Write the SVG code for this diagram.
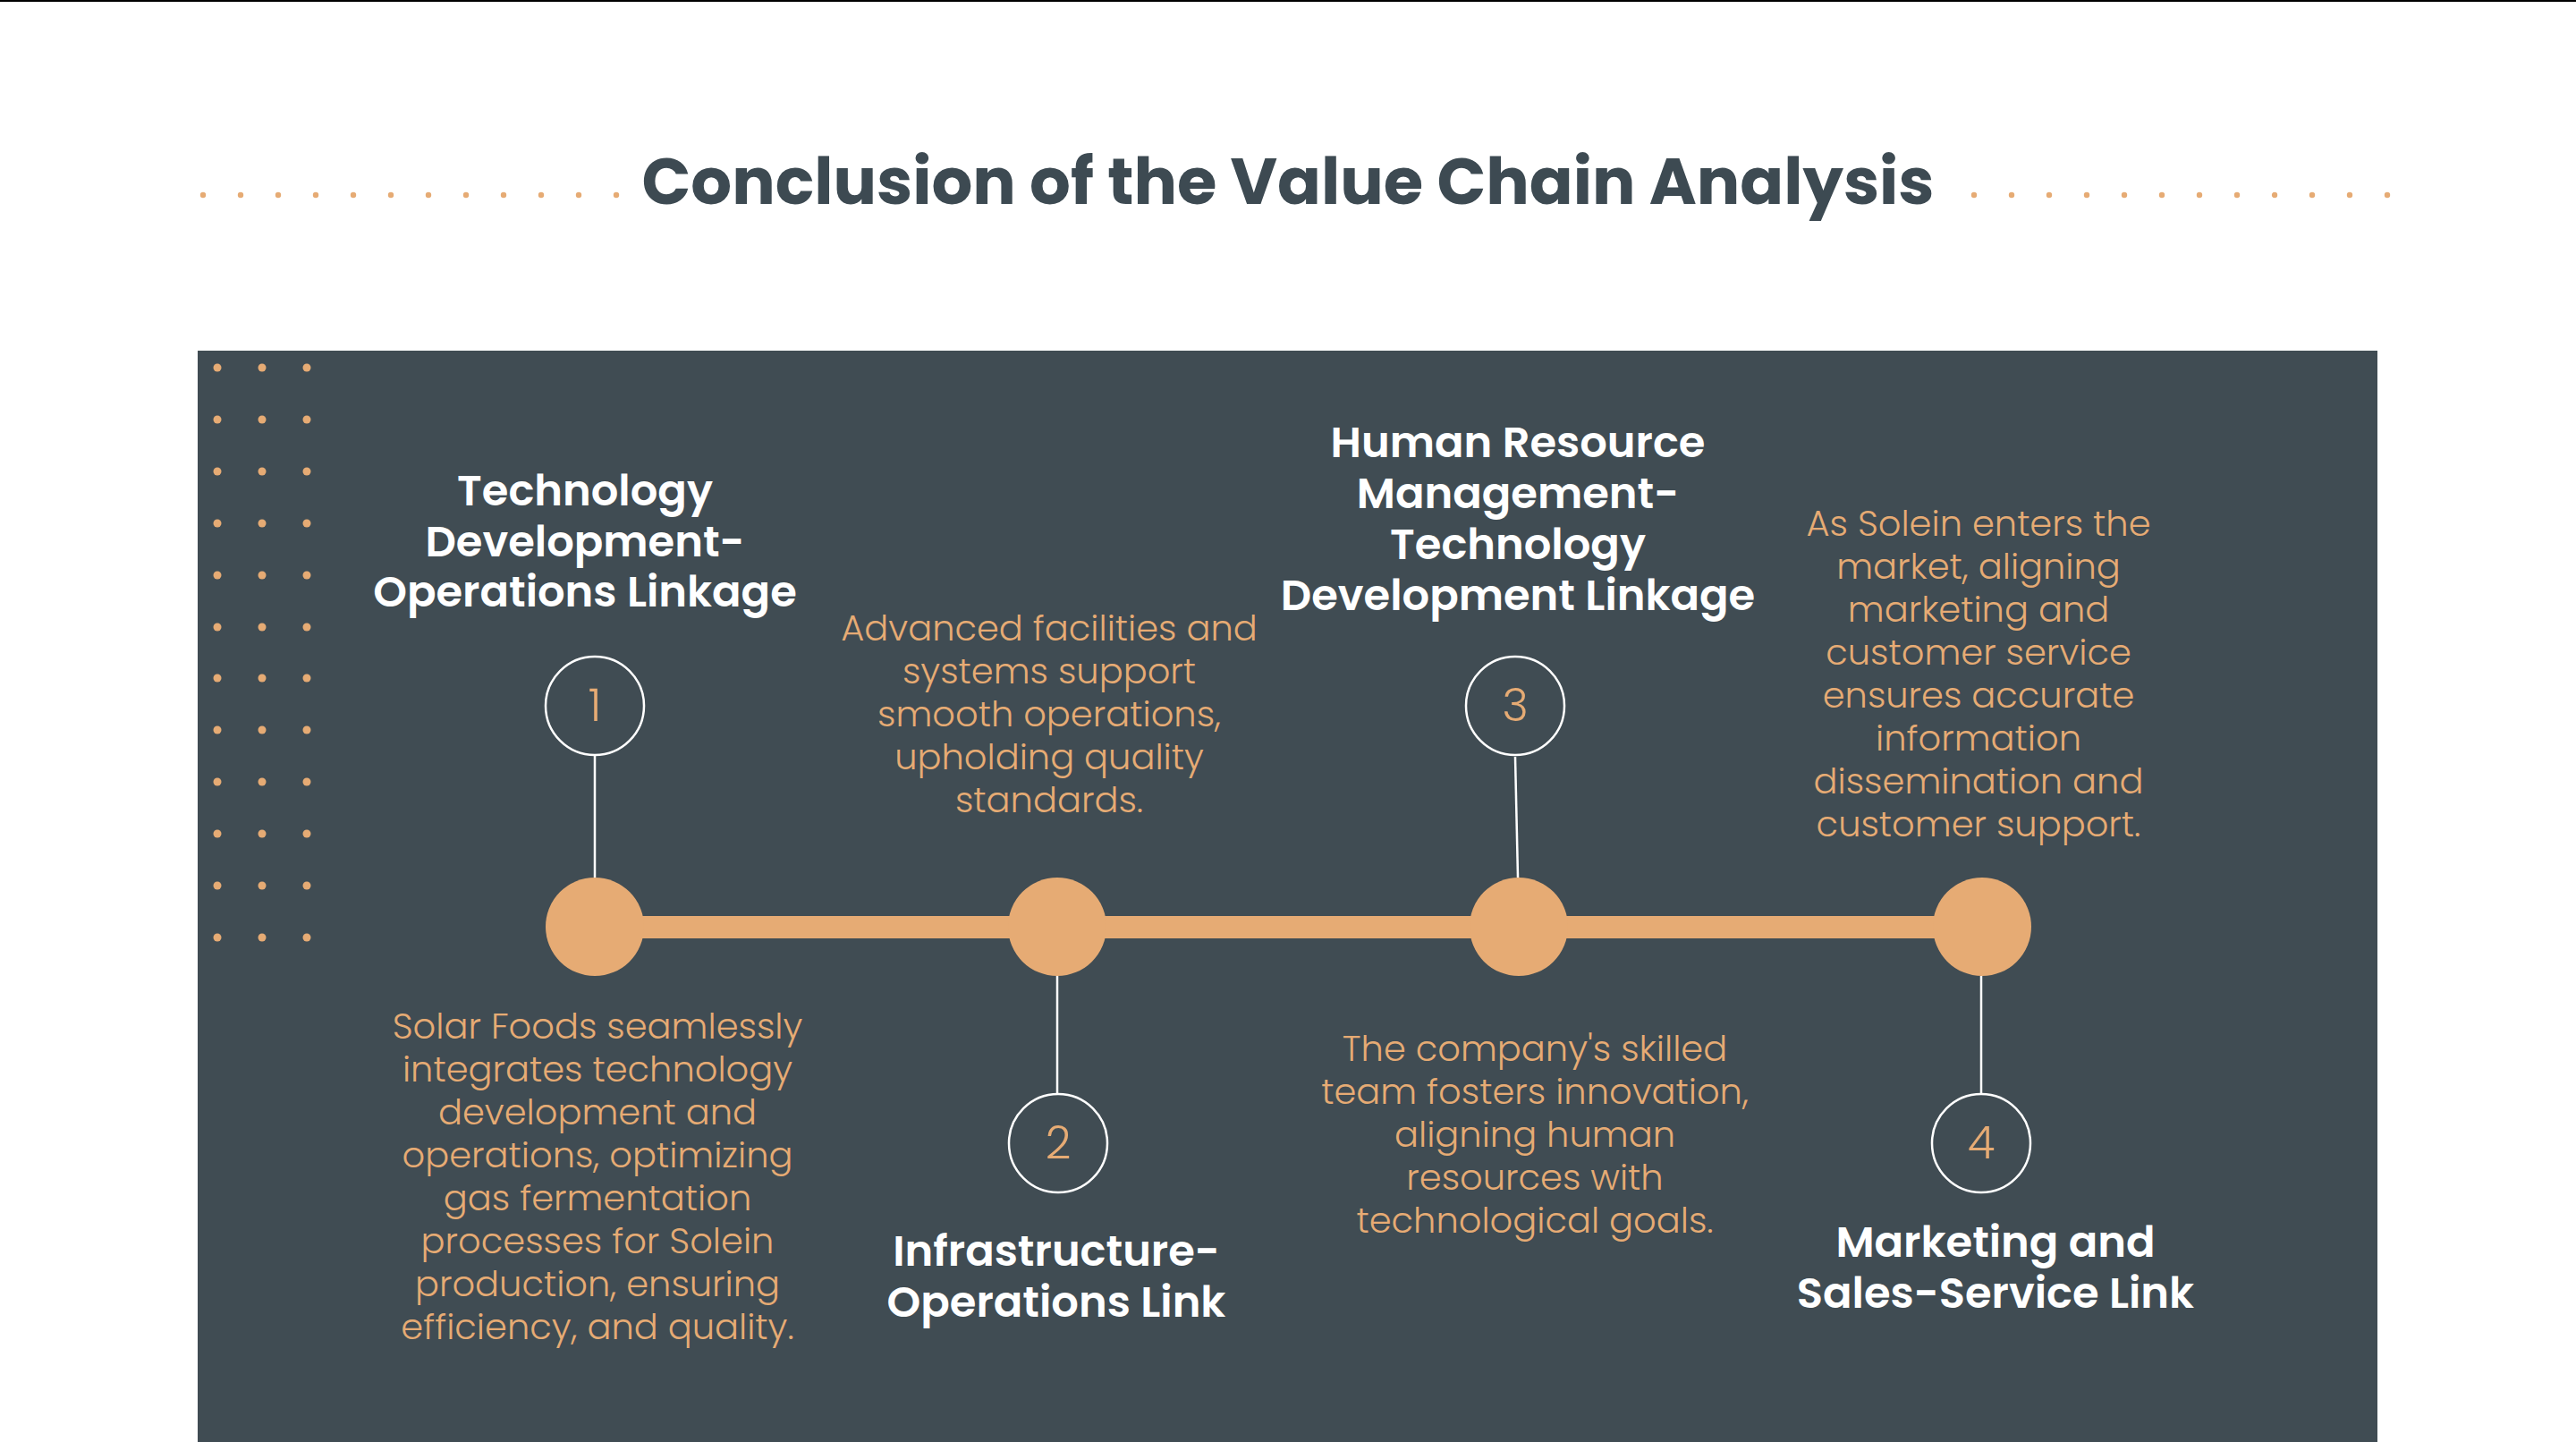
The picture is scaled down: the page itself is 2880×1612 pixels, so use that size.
<svg xmlns="http://www.w3.org/2000/svg" width="2880" height="1612" viewBox="0 0 2880 1612">
<style>
.page{fill:#ffffff}
.panel{fill:#404c53}
.dot{fill:#e6ab74}
.title{font-family:Poppins,Lato,"Open Sans",sans-serif;font-weight:700;font-size:72px;fill:#3d4a52;text-anchor:middle}
.head{font-family:Poppins,Lato,"Open Sans",sans-serif;font-weight:600;font-size:48px;fill:#ffffff;text-anchor:middle}
.body{font-family:Poppins,Lato,"Open Sans",sans-serif;font-weight:300;font-size:40px;fill:#e6ab74;text-anchor:middle}
.num{font-family:Poppins,Lato,"Open Sans",sans-serif;font-weight:300;font-size:50px;fill:#e6ab74;text-anchor:middle}
.ring{fill:none;stroke:#ffffff;stroke-width:2.5}
.hub{fill:#e6ab74}
.bar{fill:#e6ab74}
.stem{stroke:#ffffff;stroke-width:2.5;fill:none}
</style>
<defs>
<circle id="td" r="3.2" class="dot"/>
<circle id="gd" r="4.5" class="dot"/>
</defs>
<rect class="page" x="0" y="0" width="2880" height="1612"/>
<rect x="0" y="0" width="2880" height="2" fill="#000000"/>

<g id="title">
<text class="title" x="1440" y="228">Conclusion of the Value Chain Analysis</text>
<g id="title-dots-left">
<use href="#td" x="227" y="218"/><use href="#td" x="269" y="218"/><use href="#td" x="311" y="218"/><use href="#td" x="353" y="218"/><use href="#td" x="395" y="218"/><use href="#td" x="437" y="218"/><use href="#td" x="479" y="218"/><use href="#td" x="521" y="218"/><use href="#td" x="563" y="218"/><use href="#td" x="605" y="218"/><use href="#td" x="647" y="218"/><use href="#td" x="689" y="218"/>
</g>
<g id="title-dots-right">
<use href="#td" x="2207" y="218"/><use href="#td" x="2249" y="218"/><use href="#td" x="2291" y="218"/><use href="#td" x="2333" y="218"/><use href="#td" x="2375" y="218"/><use href="#td" x="2417" y="218"/><use href="#td" x="2459" y="218"/><use href="#td" x="2501" y="218"/><use href="#td" x="2543" y="218"/><use href="#td" x="2585" y="218"/><use href="#td" x="2627" y="218"/><use href="#td" x="2669" y="218"/>
</g>
</g>

<rect id="panel" class="panel" x="221" y="392" width="2437" height="1220"/>

<g id="grid-dots">
<use href="#gd" x="243" y="411"/><use href="#gd" x="293" y="411"/><use href="#gd" x="343" y="411"/>
<use href="#gd" x="243" y="469"/><use href="#gd" x="293" y="469"/><use href="#gd" x="343" y="469"/>
<use href="#gd" x="243" y="527"/><use href="#gd" x="293" y="527"/><use href="#gd" x="343" y="527"/>
<use href="#gd" x="243" y="585"/><use href="#gd" x="293" y="585"/><use href="#gd" x="343" y="585"/>
<use href="#gd" x="243" y="643"/><use href="#gd" x="293" y="643"/><use href="#gd" x="343" y="643"/>
<use href="#gd" x="243" y="701"/><use href="#gd" x="293" y="701"/><use href="#gd" x="343" y="701"/>
<use href="#gd" x="243" y="758"/><use href="#gd" x="293" y="758"/><use href="#gd" x="343" y="758"/>
<use href="#gd" x="243" y="816"/><use href="#gd" x="293" y="816"/><use href="#gd" x="343" y="816"/>
<use href="#gd" x="243" y="874"/><use href="#gd" x="293" y="874"/><use href="#gd" x="343" y="874"/>
<use href="#gd" x="243" y="932"/><use href="#gd" x="293" y="932"/><use href="#gd" x="343" y="932"/>
<use href="#gd" x="243" y="990"/><use href="#gd" x="293" y="990"/><use href="#gd" x="343" y="990"/>
<use href="#gd" x="243" y="1048"/><use href="#gd" x="293" y="1048"/><use href="#gd" x="343" y="1048"/>
</g>

<g id="connectors">
<rect class="bar" x="665" y="1024" width="1551" height="25"/>
<line class="stem" x1="665" y1="845" x2="665" y2="981"/>
<line class="stem" x1="1182" y1="1091" x2="1182" y2="1222"/>
<line class="stem" x1="1694" y1="846" x2="1697" y2="981"/>
<line class="stem" x1="2215" y1="1091" x2="2215" y2="1222"/>
</g>

<g id="node1">
<circle class="hub" cx="665" cy="1036" r="55"/>
<circle class="ring" cx="665" cy="789" r="55"/>
<text class="num" x="665" y="806">1</text>
<text class="head"><tspan x="654" y="565">Technology</tspan><tspan x="654" y="622">Development-</tspan><tspan x="654" y="678">Operations Linkage</tspan></text>
<text class="body"><tspan x="668" y="1161">Solar Foods seamlessly</tspan><tspan x="668" y="1209">integrates technology</tspan><tspan x="668" y="1257">development and</tspan><tspan x="668" y="1305">operations, optimizing</tspan><tspan x="668" y="1353">gas fermentation</tspan><tspan x="668" y="1401">processes for Solein</tspan><tspan x="668" y="1449">production, ensuring</tspan><tspan x="668" y="1497">efficiency, and quality.</tspan></text>
</g>

<g id="node2">
<circle class="hub" cx="1182" cy="1036" r="55"/>
<circle class="ring" cx="1183" cy="1278" r="55"/>
<text class="num" x="1183" y="1295">2</text>
<text class="body"><tspan x="1173" y="716">Advanced facilities and</tspan><tspan x="1173" y="764">systems support</tspan><tspan x="1173" y="812">smooth operations,</tspan><tspan x="1173" y="860">upholding quality</tspan><tspan x="1173" y="908">standards.</tspan></text>
<text class="head"><tspan x="1181" y="1415">Infrastructure-</tspan><tspan x="1181" y="1472">Operations Link</tspan></text>
</g>

<g id="node3">
<circle class="hub" cx="1698" cy="1036" r="55"/>
<circle class="ring" cx="1694" cy="789" r="55"/>
<text class="num" x="1694" y="806">3</text>
<text class="head"><tspan x="1697" y="511">Human Resource</tspan><tspan x="1697" y="568">Management-</tspan><tspan x="1697" y="625">Technology</tspan><tspan x="1697" y="682">Development Linkage</tspan></text>
<text class="body"><tspan x="1716" y="1186">The company's skilled</tspan><tspan x="1716" y="1234">team fosters innovation,</tspan><tspan x="1716" y="1282">aligning human</tspan><tspan x="1716" y="1330">resources with</tspan><tspan x="1716" y="1378">technological goals.</tspan></text>
</g>

<g id="node4">
<circle class="hub" cx="2216" cy="1036" r="55"/>
<circle class="ring" cx="2215" cy="1278" r="55"/>
<text class="num" x="2215" y="1295">4</text>
<text class="body"><tspan x="2212" y="599">As Solein enters the</tspan><tspan x="2212" y="647">market, aligning</tspan><tspan x="2212" y="695">marketing and</tspan><tspan x="2212" y="743">customer service</tspan><tspan x="2212" y="791">ensures accurate</tspan><tspan x="2212" y="839">information</tspan><tspan x="2212" y="887">dissemination and</tspan><tspan x="2212" y="935">customer support.</tspan></text>
<text class="head"><tspan x="2231" y="1405">Marketing and</tspan><tspan x="2231" y="1462">Sales-Service Link</tspan></text>
</g>
</svg>
